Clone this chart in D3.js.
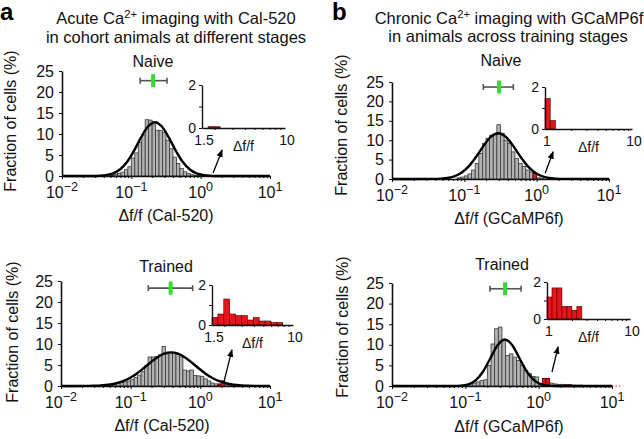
<!DOCTYPE html>
<html><head><meta charset="utf-8">
<script src="https://cdn.jsdelivr.net/npm/d3@7"></script>
<style>
body{margin:0;background:#fff}
svg{display:block;font-family:"Liberation Sans",Arial,Helvetica,sans-serif}
</style>
</head><body>
<svg id="chart" width="644" height="439"></svg>
<script>
// ---------------- DATA ----------------
const binStep = 0.05;            // log10 width of a main histogram bin
const insetStep = 0.06;          // log10 width of an inset bin
const xTickValues = [0.01, 0.1, 1, 10];
const xTickExponents = ["\u22122", "\u22121", "0", "1"];
const yTickValues = [0, 5, 10, 15, 20, 25];
const insetYTicks = [0, 1, 2];
const insetYLabels = [0, 2];

// Panel a, Naive (Cal-520) – first bin left edge as log10(Δf/f)
const aNaiveFirstBin = -1.30;
const aNaiveValues = [0.2,0.4,0.6,0.9,1.5,2.2,4.3,5.5,8.0,9.8,13.4,13.3,12.4,10.9,10.8,10.3,8.5,6.5,4.5,3.0,1.8,1.0,0.6,0.3,0.15,0.1];
const aNaiveRed = [];
const aNaiveFitLogX = [-1.56,-1.46,-1.36,-1.26,-1.16,-1.06,-0.96,-0.86,-0.76,-0.66,-0.56,-0.46,-0.36,-0.26,-0.16,-0.06,0.04,0.14,0.24];
const aNaiveFitY   = [0.015,0.06,0.22,0.64,1.6,3.38,6.04,9.18,11.78,12.8,11.78,9.18,6.04,3.38,1.6,0.64,0.22,0.06,0.015];
const aNaiveMean = {mean:0.206, low:0.134, high:0.327, level:22.7};
const aNaiveInsetStart = 1.5;
const aNaiveInsetValues = [0, 0.06, 0.06];
const aNaiveArrow = {from:[1.51,0.7], to:[2.04,6.2]};

// Panel b, Naive (GCaMP6f)
const bNaiveFirstBin = -1.10;
const bNaiveValues = [0.3,0.5,0.8,1.3,2.3,4.0,6.6,9.2,10.5,11.3,11.6,14.0,11.8,10.0,9.2,7.0,5.3,4.0,3.2,2.3,1.8,1.5,0.3,0.1];
const bNaiveRed = [{logX:-0.05, value:1.5}];
const bNaiveFitLogX = [-1.43,-1.33,-1.23,-1.13,-1.03,-0.93,-0.83,-0.73,-0.63,-0.53,-0.43,-0.33,-0.23,-0.13,-0.03,0.07,0.17,0.27,0.37];
const bNaiveFitY   = [0.024,0.086,0.27,0.74,1.72,3.45,5.9,8.67,10.93,11.8,10.93,8.67,5.9,3.45,1.72,0.74,0.27,0.086,0.024];
const bNaiveMean = {mean:0.302, low:0.183, high:0.476, level:23.7};
const bNaiveInsetStart = 1;
const bNaiveInsetValues = [1.45, 0.4];
const bNaiveArrow = {from:[1.31,1.5], to:[1.69,7.0]};

// Panel a, Trained (Cal-520)
const aTrainedFirstBin = -1.50;
const aTrainedValues = [0.1,0.2,0.2,0.3,0.4,0.5,0.6,0.8,1.0,1.2,1.6,2.0,2.6,3.4,4.8,6.9,6.9,7.0,7.4,9.4,7.6,7.9,7.8,7.6,6.9,3.8,3.6,3.8,2.5,2.4,2.3,1.7,1.2,0.7,0.5,0.5,1.2,0.5,0.4,0.3,0.3,0.2,0.2,0.1,0.1,0.1,0.1,0.05];
const aTrainedRed = [{logX:0.25, value:0.4}, {logX:0.30, value:1.2}];
const aTrainedFitLogX = [-1.62,-1.52,-1.42,-1.32,-1.22,-1.12,-1.02,-0.92,-0.82,-0.72,-0.62,-0.52,-0.42,-0.32,-0.22,-0.12,-0.02,0.08,0.18,0.28,0.38,0.48,0.58,0.68,0.78];
const aTrainedFitY   = [0.022,0.058,0.135,0.29,0.59,1.08,1.84,2.88,4.16,5.54,6.79,7.68,8.0,7.68,6.79,5.54,4.16,2.88,1.84,1.08,0.59,0.29,0.135,0.058,0.022];
const aTrainedMean = {mean:0.375, low:0.179, high:0.776, level:23.3};
const aTrainedInsetStart = 1.5;
const aTrainedInsetValues = [0.38,0.55,1.3,0.55,0.47,0.47,0.25,0.37,0.2,0.2,0.12,0.12];
const aTrainedArrow = {from:[2.18,1.0], to:[2.84,8.6]};

// Panel b, Trained (GCaMP6f)
const bTrainedFirstBin = -1.10;
const bTrainedValues = [0.1,0.2,0.3,0.5,0.7,1.0,1.3,1.5,5.0,10.2,13.9,14.3,11.0,7.4,7.8,7.0,6.2,5.0,3.8,3.0,2.3,2.2,0.6,1.8,1.8,0.7,0.5,0.4,0.4,0.3,0.3,0.2,0.2,0.2,0.15,0.15,0.1,0.1,0.1,0.1,0.1,0.1];
const bTrainedRed = [{logX:0.05, value:1.8}, {logX:0.10, value:1.8}, {logX:0.35, value:0.3}, {logX:0.40, value:0.3}];
const bTrainedFitLogX = [-1.16,-1.06,-0.96,-0.86,-0.76,-0.66,-0.56,-0.46,-0.36,-0.26,-0.16,-0.06,0.04,0.14,0.24];
const bTrainedFitY   = [0.018,0.10,0.42,1.38,3.46,6.68,9.91,11.3,9.91,6.68,3.46,1.38,0.42,0.10,0.018];
const bTrainedMean = {mean:0.348, low:0.217, high:0.575, level:23.6};
const bTrainedInsetStart = 1;
const bTrainedInsetValues = [1.19,1.68,1.68,0.68,0.68,0.47,0.68];
const bTrainedArrow = {from:[1.52,3.4], to:[1.84,9.5]};
const bTrainedTail = [8, 14];

// ---------------- LAYOUT ----------------
const svg = d3.select("#chart");
const GRAY = "#b2b2b2", RED = "#e8141a", GREEN = "#2fe02f", BAR_EDGE = "#3a3a3a";

const panels = [
  {first:aNaiveFirstBin, values:aNaiveValues, red:aNaiveRed, fx:aNaiveFitLogX, fy:aNaiveFitY, mean:aNaiveMean,
   insetStart:aNaiveInsetStart, insetValues:aNaiveInsetValues, insetColor:"#a01010", arrow:aNaiveArrow,
   L:62, R:270, B:176, T:71, stage:"Naive", stageX:153, stageY:67,
   yTitleX:10, yTitleY:121, xTitle:"Cal-520", xTitleX:166, xTitleY:221,
   inset:{L:202, R:285, B:128, T:85, domain:[1.5,10], first:"1.5"}},
  {first:bNaiveFirstBin, values:bNaiveValues, red:bNaiveRed, fx:bNaiveFitLogX, fy:bNaiveFitY, mean:bNaiveMean,
   insetStart:bNaiveInsetStart, insetValues:bNaiveInsetValues, insetColor:RED, arrow:bNaiveArrow,
   L:392, R:609, B:179, T:82, stage:"Naive", stageX:501, stageY:66,
   yTitleX:341, yTitleY:125, xTitle:"GCaMP6f", xTitleX:509, xTitleY:224,
   inset:{L:545, R:632, B:129, T:87, domain:[1,10], first:"1"}},
  {first:aTrainedFirstBin, values:aTrainedValues, red:aTrainedRed, fx:aTrainedFitLogX, fy:aTrainedFitY, mean:aTrainedMean,
   insetStart:aTrainedInsetStart, insetValues:aTrainedInsetValues, insetColor:RED, arrow:aTrainedArrow,
   L:61, R:270, B:386, T:281, stage:"Trained", stageX:166, stageY:272,
   yTitleX:12, yTitleY:332, xTitle:"Cal-520", xTitleX:162, xTitleY:431,
   inset:{L:212, R:293, B:325, T:285, domain:[1.5,10], first:"1.5"}},
  {first:bTrainedFirstBin, values:bTrainedValues, red:bTrainedRed, fx:bTrainedFitLogX, fy:bTrainedFitY, mean:bTrainedMean,
   insetStart:bTrainedInsetStart, insetValues:bTrainedInsetValues, insetColor:RED, arrow:bTrainedArrow,
   L:392, R:612, B:386, T:283, stage:"Trained", stageX:502, stageY:270,
   yTitleX:342, yTitleY:327, xTitle:"GCaMP6f", xTitleX:509, xTitleY:432, tail:bTrainedTail,
   inset:{L:547, R:630, B:319, T:282, domain:[1,10], first:"1"}}
];

// arrow marker
svg.append("defs").append("marker").attr("id","ah").attr("viewBox","0 0 10 10")
  .attr("refX",9).attr("refY",5).attr("markerWidth",6).attr("markerHeight",6)
  .attr("orient","auto").append("path").attr("d","M0,1 L10,5 L0,9 Z").attr("fill","#000");

// headings
function heading(x, y, parts, size){
  const t = svg.append("text").attr("x",x).attr("y",y).attr("text-anchor","middle")
     .attr("font-size",size).attr("fill","#111");
  parts.forEach(p=>{
    if (p.sup) t.append("tspan").attr("dy",-6).attr("font-size",size*0.68).text(p.sup);
    else if (p.after) t.append("tspan").attr("dy",6).text(p.after);
    else t.append("tspan").text(p.text);
  });
}
svg.append("text").attr("x",0).attr("y",20).attr("font-size",24).attr("font-weight","bold").text("a");
svg.append("text").attr("x",332).attr("y",20).attr("font-size",24).attr("font-weight","bold").text("b");
heading(176,24,[{text:"Acute Ca"},{sup:"2+"},{after:" imaging with Cal-520"}],16.5);
heading(176,43,[{text:"in cohort animals at different stages"}],16.5);
heading(509,24,[{text:"Chronic Ca"},{sup:"2+"},{after:" imaging with GCaMP6f"}],16.5);
heading(508,42,[{text:"in animals across training stages"}],16.5);

const minorMain = [];
[0.01,0.1,1].forEach(d=>{ for(let k=2;k<=9;k++) minorMain.push(d*k); });

panels.forEach(p=>{
  const g = svg.append("g");
  const x = d3.scaleLog().domain([0.01,10]).range([p.L,p.R]);
  const y = d3.scaleLinear().domain([0,25]).range([p.B,p.T]);

  // gray histogram
  const bins = p.values.map((v,i)=>({e:p.first + i*binStep, v}));
  g.append("g").selectAll("rect").data(bins.filter(d=>d.v>0)).join("rect")
    .attr("x", d=>x(Math.pow(10,d.e)))
    .attr("width", d=>x(Math.pow(10,d.e+binStep)) - x(Math.pow(10,d.e)))
    .attr("y", d=>y(d.v)).attr("height", d=>y(0)-y(d.v))
    .attr("fill",GRAY).attr("stroke",BAR_EDGE).attr("stroke-width",0.8);
  // red bins
  g.append("g").selectAll("rect").data(p.red).join("rect")
    .attr("x", d=>x(Math.pow(10,d.logX)))
    .attr("width", d=>x(Math.pow(10,d.logX+binStep)) - x(Math.pow(10,d.logX)))
    .attr("y", d=>y(d.value)).attr("height", d=>y(0)-y(d.value))
    .attr("fill",RED).attr("stroke","#5a0000").attr("stroke-width",0.7);

  // axes
  const ya = g.append("g").attr("transform",`translate(${p.L},0)`)
    .call(d3.axisLeft(y).tickValues(yTickValues).tickSize(3).tickSizeOuter(0).tickPadding(5));
  ya.selectAll("text").attr("font-size",16).attr("fill","#111").attr("font-family","Liberation Sans, Arial, sans-serif");
  const xa = g.append("g").attr("transform",`translate(0,${p.B})`)
    .call(d3.axisBottom(x).tickValues(xTickValues).tickSize(3).tickSizeOuter(0).tickFormat(""));
  g.append("g").attr("transform",`translate(0,${p.B})`)
    .call(d3.axisBottom(x).tickValues(minorMain).tickSize(2).tickFormat(""))
    .call(s=>s.select(".domain").remove());
  [ya,xa].forEach(a=>{a.select(".domain").attr("stroke-width",1.6).attr("stroke","#111");
    a.selectAll(".tick line").attr("stroke","#111");});
  xTickValues.forEach((v,i)=>{
    const t = g.append("text").attr("x",x(v)).attr("y",p.B+22).attr("text-anchor","middle")
      .attr("font-size",16).attr("fill","#111");
    t.append("tspan").text("10");
    t.append("tspan").attr("dy",-7).attr("font-size",12.5).text(xTickExponents[i]);
  });

  if (p.tail){
    g.append("line").attr("x1",x(p.tail[0])).attr("x2",x.copy().clamp(false)(p.tail[1]))
      .attr("y1",y(0)).attr("y2",y(0)).attr("stroke",RED).attr("stroke-width",1).attr("stroke-dasharray","1.5,2");
  }

  // fitted curve
  const pts = [[0.01,0]].concat(p.fx.map((e,i)=>[Math.pow(10,e), p.fy[i]])).concat([[10,0]]);
  g.append("path").datum(pts)
    .attr("d", d3.line().x(d=>x(d[0])).y(d=>y(d[1])).curve(d3.curveMonotoneX))
    .attr("fill","none").attr("stroke","#000").attr("stroke-width",2.4);

  // mean +/- marker
  const m = p.mean, my = y(m.level);
  g.append("line").attr("x1",x(m.low)).attr("x2",x(m.high)).attr("y1",my).attr("y2",my)
    .attr("stroke","#555").attr("stroke-width",1.6);
  [m.low,m.high].forEach(v=>g.append("line").attr("x1",x(v)).attr("x2",x(v))
    .attr("y1",my-3).attr("y2",my+3).attr("stroke","#555").attr("stroke-width",1.6));
  g.append("rect").attr("x",x(m.mean)-2).attr("width",4).attr("y",my-6.5).attr("height",13).attr("fill",GREEN);

  // titles
  g.append("text").attr("x",p.stageX).attr("y",p.stageY).attr("text-anchor","middle")
    .attr("font-size",16).attr("fill","#111").text(p.stage);
  g.append("text").attr("transform",`translate(${p.yTitleX},${p.yTitleY}) rotate(-90)`)
    .attr("text-anchor","middle").attr("dy","0.35em").attr("font-size",16).attr("fill","#111")
    .text("Fraction of cells (%)");
  g.append("text").attr("x",p.xTitleX).attr("y",p.xTitleY).attr("text-anchor","middle")
    .attr("font-size",16).attr("fill","#111").text("\u0394f/f (" + p.xTitle + ")");

  // arrow
  g.append("line").attr("x1",x(p.arrow.from[0])).attr("y1",y(p.arrow.from[1]))
    .attr("x2",x(p.arrow.to[0])).attr("y2",y(p.arrow.to[1]))
    .attr("stroke","#000").attr("stroke-width",1.3).attr("marker-end","url(#ah)");

  // inset
  const I = p.inset;
  const ix = d3.scaleLog().domain(I.domain).range([I.L,I.R]);
  const iy = d3.scaleLinear().domain([0,2]).range([I.B,I.T]);
  const s0 = Math.log10(p.insetStart);
  const ib = p.insetValues.map((v,i)=>({e:s0+i*insetStep, v}));
  g.append("g").selectAll("rect").data(ib.filter(d=>d.v>0)).join("rect")
    .attr("x",d=>ix(Math.pow(10,d.e)))
    .attr("width",d=>ix(Math.pow(10,d.e+insetStep))-ix(Math.pow(10,d.e)))
    .attr("y",d=>iy(d.v)).attr("height",d=>iy(0)-iy(d.v))
    .attr("fill",p.insetColor).attr("stroke","#4a0000").attr("stroke-width",0.6);
  const iya = g.append("g").attr("transform",`translate(${I.L},0)`)
    .call(d3.axisLeft(iy).tickValues(insetYTicks).tickSize(3).tickSizeOuter(0)
      .tickFormat(d=>insetYLabels.includes(d)?d:"").tickPadding(3));
  iya.selectAll("text").attr("font-size",14).attr("fill","#111");
  const minorInset = [2,3,4,5,6,7,8,9].filter(v=>v>I.domain[0]);
  const ixa = g.append("g").attr("transform",`translate(0,${I.B})`)
    .call(d3.axisBottom(ix).tickValues(minorInset).tickSize(2).tickSizeOuter(0).tickFormat(""));
  [iya,ixa].forEach(a=>{a.select(".domain").attr("stroke-width",1.4).attr("stroke","#111");
    a.selectAll(".tick line").attr("stroke","#111");});
  [[I.domain[0],I.first],[10,"10"]].forEach(([v,lab])=>{
    g.append("text").attr("x",ix(v)+2).attr("y",I.B+17).attr("text-anchor","middle")
      .attr("font-size",14).attr("fill","#111").text(lab);
  });
  g.append("text").attr("x",(I.L+I.R)/2).attr("y",I.B+23).attr("text-anchor","middle")
    .attr("font-size",14).attr("fill","#111").text("\u0394f/f");
});
</script>
</body></html>
